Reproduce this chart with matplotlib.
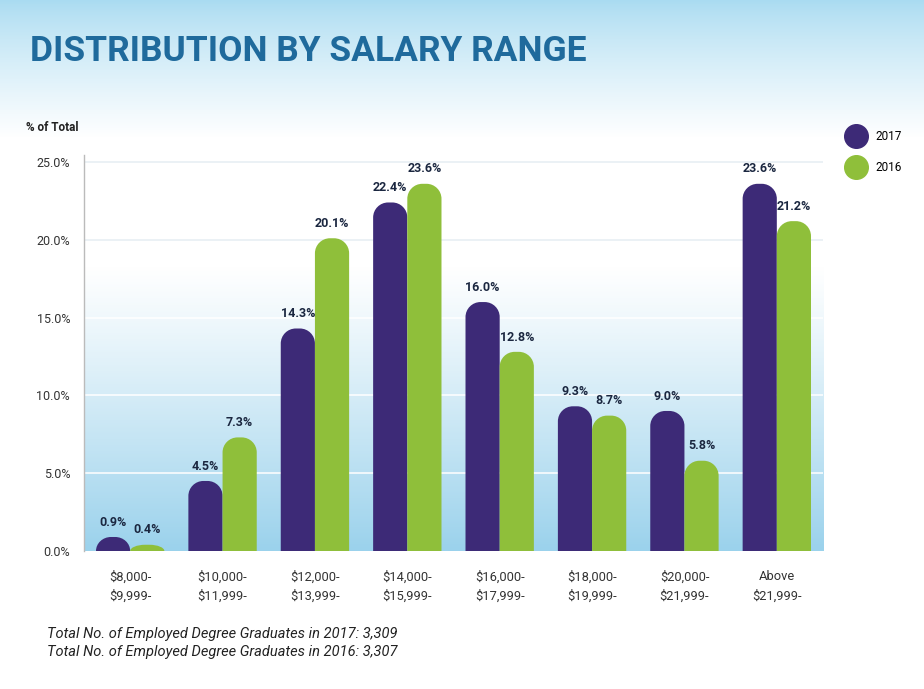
import numpy as np
import matplotlib
matplotlib.use("Agg")
import matplotlib.pyplot as plt
from matplotlib.colors import LinearSegmentedColormap
from matplotlib.lines import Line2D
from matplotlib.patches import PathPatch
from matplotlib.path import Path

CATEGORIES = ["$8,000-\n$9,999-", "$10,000-\n$11,999-", "$12,000-\n$13,999-",
              "$14,000-\n$15,999-", "$16,000-\n$17,999-", "$18,000-\n$19,999-",
              "$20,000-\n$21,999-", "Above\n$21,999-"]
VALS_2017 = [0.9, 4.5, 14.3, 22.4, 16.0, 9.3, 9.0, 23.6]
VALS_2016 = [0.4, 7.3, 20.1, 23.6, 12.8, 8.7, 5.8, 21.2]
YTICKS = [0, 5, 10, 15, 20, 25]
FOOTNOTES = ["Total No. of Employed Degree Graduates in 2017: 3,309",
             "Total No. of Employed Degree Graduates in 2016: 3,307"]

PURPLE = "#3d2a77"
GREEN = "#8fbf3a"
LABEL_C = "#1b2740"

plt.rcParams["font.family"] = ["Roboto", "DejaVu Sans"]

fig = plt.figure(figsize=(9.24, 6.89), dpi=100)

# page background: blue fading to white at the top
bg = fig.add_axes([0, 0, 1, 1], zorder=-10)
bg.axis("off")
ramp = np.clip(np.linspace(0, 1, 689) / 0.2, 0, 1) ** 0.8
bg_cmap = LinearSegmentedColormap.from_list("bg", ["#a9dbf1", "#ffffff"])
bg.imshow(ramp[:, None], cmap=bg_cmap, aspect="auto", extent=[0, 1, 0, 1], vmin=0, vmax=1)
bg.set_xlim(0, 1)
bg.set_ylim(0, 1)

ax_w, ax_h = 0.7998, 0.5747
ax = fig.add_axes([0.0909, 0.2003, ax_w, ax_h])
ylim_top = 25.45
ax.set_xlim(-0.5, len(CATEGORIES) - 0.5)
ax.set_ylim(0, ylim_top)

# plot area gradient: white on top, light blue at the bottom
t = np.linspace(0, 1, 400)
g = np.clip((t - 0.28) / 0.72, 0, 1) ** 1.1
pa_cmap = LinearSegmentedColormap.from_list("pa", ["#ffffff", "#9bd2ec"])
ax.imshow(g[:, None], cmap=pa_cmap, aspect="auto", vmin=0, vmax=1,
          extent=[-0.5, len(CATEGORIES) - 0.5, 0, ylim_top], zorder=0)

for y in YTICKS[1:]:
    ax.axhline(y, color="#e6eef3" if y >= 20 else "#ffffff", lw=1.4, alpha=0.8, zorder=1)

x = np.arange(len(CATEGORIES))
w = 0.37
px_per_x = ax_w * 924 / len(CATEGORIES)
px_per_y = ax_h * 689 / ylim_top
corner_px = 15
rx = corner_px / px_per_x
ry_full = corner_px / px_per_y
K = 0.5523


def rounded_bar(xc, h, color):
    x0, x1 = xc - w / 2, xc + w / 2
    ry = min(ry_full, h)
    verts = [(x0, 0), (x0, h - ry),
             (x0, h - ry + K * ry), (x0 + rx - K * rx, h), (x0 + rx, h),
             (x1 - rx, h),
             (x1 - rx + K * rx, h), (x1, h - ry + K * ry), (x1, h - ry),
             (x1, 0), (x0, 0)]
    codes = [Path.MOVETO, Path.LINETO,
             Path.CURVE4, Path.CURVE4, Path.CURVE4,
             Path.LINETO,
             Path.CURVE4, Path.CURVE4, Path.CURVE4,
             Path.LINETO, Path.CLOSEPOLY]
    ax.add_patch(PathPatch(Path(verts, codes), facecolor=color, edgecolor="none", zorder=3))


for xi, v17, v16 in zip(x, VALS_2017, VALS_2016):
    rounded_bar(xi - w / 2, v17, PURPLE)
    rounded_bar(xi + w / 2, v16, GREEN)
    ax.annotate(f"{v17:.1f}%", (xi - w / 2, v17), xytext=(0, 6), textcoords="offset points",
                ha="center", va="bottom", fontsize=9, fontweight="bold", color=LABEL_C)
    ax.annotate(f"{v16:.1f}%", (xi + w / 2, v16), xytext=(0, 6), textcoords="offset points",
                ha="center", va="bottom", fontsize=9, fontweight="bold", color=LABEL_C)

ax.set_yticks(YTICKS)
ax.set_yticklabels([f"{v:.1f}%" for v in YTICKS], fontsize=9, color="#333333")
ax.set_xticks(x)
ax.set_xticklabels(CATEGORIES, fontsize=9.3, color="#333333", linespacing=1.6)
ax.tick_params(axis="both", length=0)
ax.tick_params(axis="y", pad=10)
ax.tick_params(axis="x", pad=14)
for s in ["top", "right", "bottom"]:
    ax.spines[s].set_visible(False)
ax.spines["left"].set_color("#bbbbbb")
ax.spines["left"].set_linewidth(1.0)

fig.text(0.032, 0.925, "DISTRIBUTION BY SALARY RANGE", fontsize=25.5,
         fontweight="bold", color="#1f6a9c", va="center", ha="left")
fig.text(0.028, 0.815, "% of Total", fontsize=8.5, fontweight="bold", color="#222222",
         va="center", ha="left")

handles = [Line2D([], [], marker="o", ls="none", markersize=17, color=PURPLE, label="2017"),
           Line2D([], [], marker="o", ls="none", markersize=17, color=GREEN, label="2016")]
fig.legend(handles=handles, loc="upper left", bbox_to_anchor=(0.909, 0.818), frameon=False,
           fontsize=8.5, handletextpad=0.6, labelspacing=1.55, borderaxespad=0)

fig.text(0.051, 0.080, FOOTNOTES[0], fontsize=10.5, style="italic", color="#222222",
         va="center", ha="left")
fig.text(0.051, 0.054, FOOTNOTES[1], fontsize=10.5, style="italic", color="#222222",
         va="center", ha="left")

fig.savefig("out.png", dpi=100)
